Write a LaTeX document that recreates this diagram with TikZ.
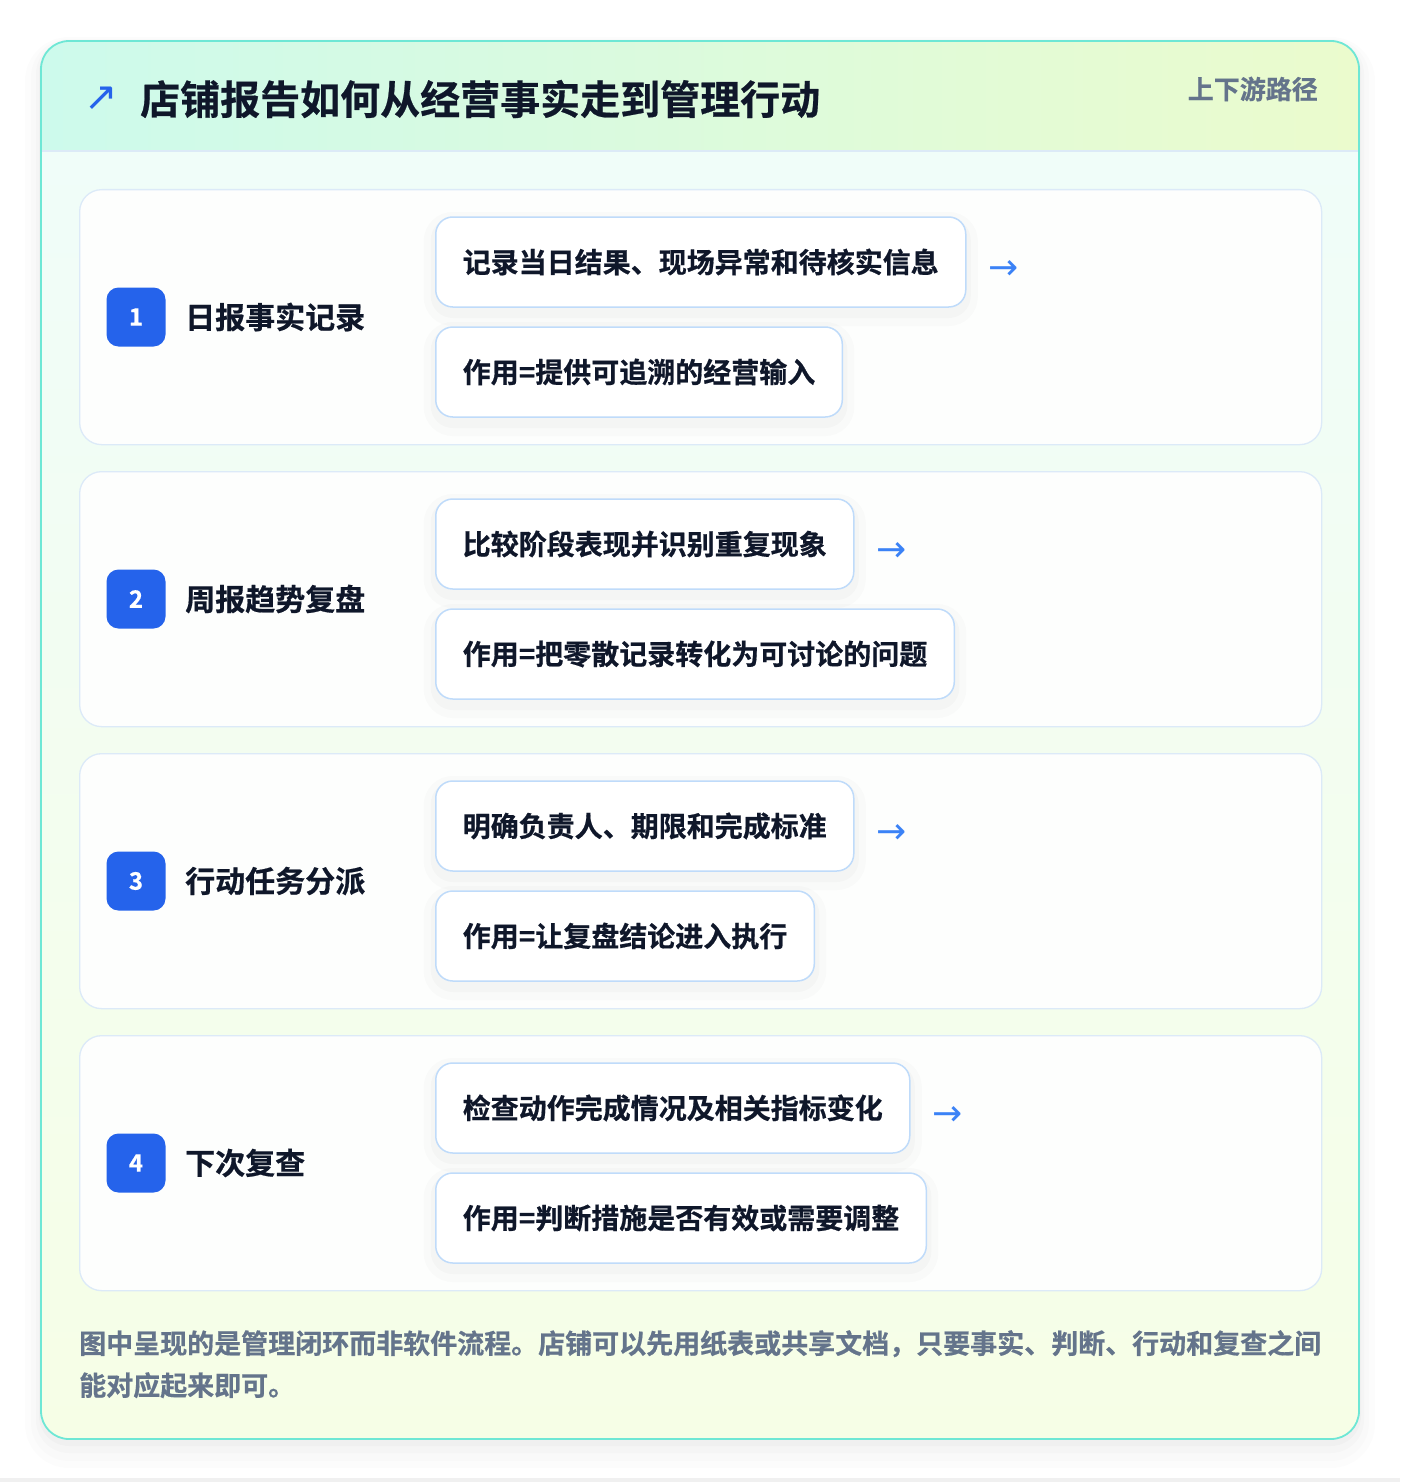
\documentclass[tikz,border=0pt]{standalone}
\usepackage{fontspec}
\setmainfont{Noto Sans CJK SC}[BoldFont={Noto Sans CJK SC Bold}, BoldFeatures={FakeBold=0.6}]
\newfontfamily\symfont{DejaVu Sans}
\usetikzlibrary{positioning}

\definecolor{ink}{HTML}{0F172A}
\definecolor{muted}{HTML}{64748B}
\definecolor{badge}{HTML}{2563EB}
\definecolor{arrowblue}{HTML}{3B82F6}
\definecolor{outeredge}{HTML}{6EE7D5}
\definecolor{headleft}{HTML}{CDFAEC}
\definecolor{headright}{HTML}{EBFBCD}
\definecolor{bodytop}{HTML}{F0FDF9}
\definecolor{bodybottom}{HTML}{F6FEE6}
\definecolor{headline}{HTML}{DCEAF7}
\definecolor{stepedge}{HTML}{DCEAF8}
\definecolor{stepfill}{HTML}{FDFEFD}
\definecolor{boxedge}{HTML}{BFDBFA}

\begin{document}
\begin{tikzpicture}[x=1pt,y=-1pt,
  step_card/.style={draw=stepedge, line width=1.3pt, fill=stepfill, rounded corners=22pt,
    minimum width=1242pt, minimum height=255pt, anchor=north west, inner sep=0pt},
  sub_box/.style={draw=boxedge, line width=1.5pt, fill=white, rounded corners=17pt,
    minimum height=90pt, inner xsep=27pt, inner ysep=0pt, anchor=west,
    font=\bfseries\fontsize{28}{30}\selectfont, text=ink,
    preaction={draw=black, draw opacity=0.014, line width=24pt, transform canvas={yshift=-7pt}},
    preaction={draw=black, draw opacity=0.018, line width=10pt, transform canvas={yshift=-6pt}}},
  num_badge/.style={fill=badge, rounded corners=12pt, minimum size=59pt, inner sep=0pt,
    text=white, font=\bfseries\fontsize{24}{26}\selectfont},
  step_title/.style={anchor=west, inner sep=0pt, text=ink, font=\bfseries\fontsize{30}{32}\selectfont},
  arrow_mark/.style={inner sep=0pt, text=arrowblue, font=\symfont\fontsize{36}{38}\selectfont}]

  \useasboundingbox (0,0) rectangle (1400,1482);
  \fill[white] (0,0) rectangle (1400,1482);
  \fill[black!6] (0,1478) rectangle (1400,1482);

  % outer card with its soft shadow
  \fill[black, opacity=0.010, rounded corners=44pt] (25,37) rectangle (1375,1468);
  \fill[black, opacity=0.012, rounded corners=38pt] (31,39) rectangle (1369,1461);
  \fill[black, opacity=0.015, rounded corners=33pt] (36,41) rectangle (1364,1453);
  \fill[black, opacity=0.020, rounded corners=30pt] (39,42) rectangle (1361,1446);
  \begin{scope}
    \clip[rounded corners=28pt] (41,41) rectangle (1359,1439);
    \fill[top color=bodytop, bottom color=bodybottom] (41,151) rectangle (1359,1439);
    \fill[left color=headleft, right color=headright] (41,41) rectangle (1359,151);
    \draw[headline, line width=1.5pt] (41,151) -- (1359,151);
  \end{scope}
  \draw[outeredge, line width=1.8pt, rounded corners=28pt] (41,41) rectangle (1359,1439);

  % header
  \node[inner sep=0pt, text=badge, font=\symfont\fontsize{40}{42}\selectfont] (arr) at (101,99) {↗};
  \node[anchor=west, inner sep=0pt, text=ink, font=\bfseries\fontsize{40}{42}\selectfont] (title) at (140,99) {店铺报告如何从经营事实走到管理行动};
  \node[anchor=east, inner sep=0pt, text=muted, font=\bfseries\fontsize{26}{28}\selectfont] (tag) at (1318,89) {上下游路径};

  % step 1
  \node[step_card] (1) at (79,189) {};
  \node[num_badge] (1n) at (136,317) {1};
  \node[step_title] (1t) at (185,317) {日报事实记录};
  \node[sub_box] (1a) at (435,262) {记录当日结果、现场异常和待核实信息};
  \node[sub_box] (1b) at (435,372) {作用=提供可追溯的经营输入};
  \node[arrow_mark, right=22pt of 1a, yshift=-8pt] (1r) {→};

  % step 2
  \node[step_card] (2) at (79,471) {};
  \node[num_badge] (2n) at (136,599) {2};
  \node[step_title] (2t) at (185,599) {周报趋势复盘};
  \node[sub_box] (2a) at (435,544) {比较阶段表现并识别重复现象};
  \node[sub_box] (2b) at (435,654) {作用=把零散记录转化为可讨论的问题};
  \node[arrow_mark, right=22pt of 2a, yshift=-8pt] (2r) {→};

  % step 3
  \node[step_card] (3) at (79,753) {};
  \node[num_badge] (3n) at (136,881) {3};
  \node[step_title] (3t) at (185,881) {行动任务分派};
  \node[sub_box] (3a) at (435,826) {明确负责人、期限和完成标准};
  \node[sub_box] (3b) at (435,936) {作用=让复盘结论进入执行};
  \node[arrow_mark, right=22pt of 3a, yshift=-8pt] (3r) {→};

  % step 4
  \node[step_card] (4) at (79,1035) {};
  \node[num_badge] (4n) at (136,1163) {4};
  \node[step_title] (4t) at (185,1163) {下次复查};
  \node[sub_box] (4a) at (435,1108) {检查动作完成情况及相关指标变化};
  \node[sub_box] (4b) at (435,1218) {作用=判断措施是否有效或需要调整};
  \node[arrow_mark, right=22pt of 4a, yshift=-8pt] (4r) {→};

  % footer note
  \node[anchor=north west, inner sep=0pt, align=left, text=muted,
    font=\bfseries\fontsize{27}{42}\selectfont] (note) at (79,1330)
    {图中呈现的是管理闭环而非软件流程。店铺可以先用纸表或共享文档，只要事实、判断、行动和复查之间\\能对应起来即可。};
\end{tikzpicture}
\end{document}
